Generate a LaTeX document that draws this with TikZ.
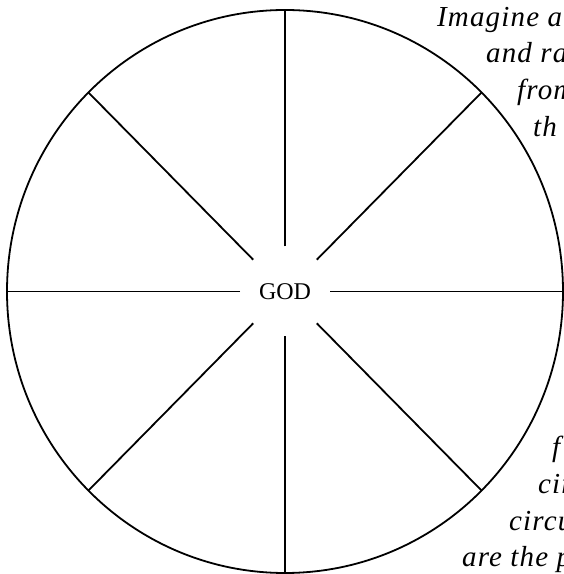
\documentclass[tikz,border=0pt]{standalone}
\usepackage{fontspec}
\setmainfont{Liberation Serif}
\newfontfamily\glossfont[LetterSpace=4]{Liberation Serif}
\usetikzlibrary{calc}

\begin{document}
\begin{tikzpicture}[x=1pt,y=1pt,
  spoke/.style={line width=1.8pt},
  gloss/.style={anchor=base west,inner sep=0pt,font=\glossfont\fontsize{29}{35}\selectfont\itshape}]
\useasboundingbox (0,0) rectangle (564,574);
\clip (0,0) rectangle (564,574);

% wheel
\coordinate (c) at (285,282.5);
\node[font=\fontsize{24}{28}\selectfont] (god) at (c) {GOD};
\draw[spoke] (c) ellipse [x radius=278, y radius=281.5];
\foreach \a in {0,45,...,315}{
  \coordinate (in\a) at ($(c)+(\a:45)$);
  \coordinate (out\a) at ($(c)+({278*cos(\a)},{281.5*sin(\a)})$);
  \draw[spoke] (in\a) -- (out\a);
}

% text running off the page
\node[gloss] (l1) at (437,547) {Imagine a};
\node[gloss] (l2) at (486,511) {and ra};
\node[gloss] (l3) at (517,474) {from};
\node[gloss] (l4) at (533,437) {th};
\node[gloss] (l5) at (552,117) {f};
\node[gloss] (l6) at (538,81) {cir};
\node[gloss] (l7) at (509,43) {circu};
\node[gloss] (l8) at (462,7) {are the pa};
\end{tikzpicture}
\end{document}
